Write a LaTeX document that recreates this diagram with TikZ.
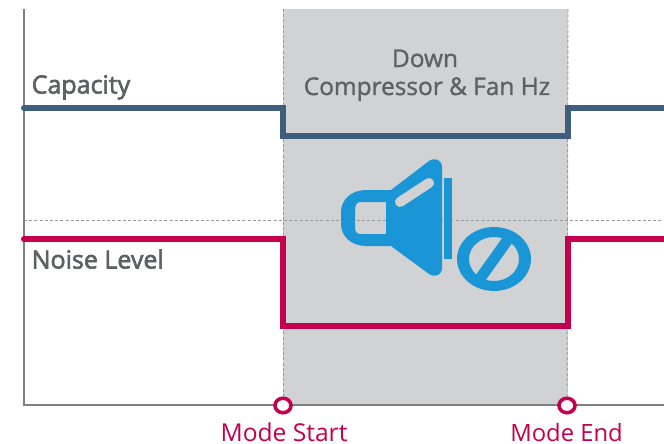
\documentclass[tikz,border=0pt]{standalone}
\usepackage{fontspec}
\usetikzlibrary{shapes.geometric}
\setmainfont{Open Sans}
\newfontfamily\semifont[FakeBold=1.2]{Open Sans}
\newfontfamily\sidefont[FakeBold=2.4]{Open Sans}
\definecolor{panel}{HTML}{D1D2D4}
\definecolor{axisc}{HTML}{808080}
\definecolor{guidec}{HTML}{9A9A9C}
\definecolor{bluec}{HTML}{3F5D7D}
\definecolor{redc}{HTML}{C4004F}
\definecolor{iconc}{HTML}{1A96D6}
\definecolor{textc}{HTML}{5F6062}
\tikzset{
  trace/.style={line width=6pt,line join=miter},
  guide/.style={draw=guidec,line width=0.9pt,dash pattern=on 3pt off 2.2pt},
  marker/.style={ellipse,draw=redc,line width=3.6pt,fill=white,minimum width=16pt,minimum height=14.5pt,inner sep=0pt},
  graylabel/.style={text=textc,font=\semifont\fontsize{24.4pt}{28pt}\selectfont,inner sep=0pt},
  sidelabel/.style={text=textc,font=\sidefont\fontsize{25pt}{28pt}\selectfont,inner sep=0pt},
  redlabel/.style={text=redc,font=\fontsize{24.6pt}{28pt}\selectfont,inner sep=0pt}
}
\begin{document}
\begin{tikzpicture}[x=1pt,y=-1pt]
\useasboundingbox (0,0) rectangle (664,444);
\fill[white] (0,0) rectangle (664,444);
\fill[panel] (283,9) rectangle (568,405);
% guides
\coordinate (ht) at (283,9); \coordinate (et) at (568,9);
\coordinate (hl) at (24,220); \coordinate (hr) at (664,220);
\draw[guide] (hl) -- (hr);
% axes
\coordinate (o) at (24,405); \coordinate (yt) at (24,9); \coordinate (xr) at (664,405);
\draw[axisc,line width=1.6pt] (yt) -- (o) -- (xr);
% markers
\node[marker] (ms) at (283,405.5) {};
\node[marker] (me) at (567,405.5) {};
\draw[guide] (ht) -- (ms);
\draw[guide] (et) -- (me);
% traces
\draw[bluec,trace] (24,108) -- (283,108) -- (283,136) -- (568,136) -- (568,108) -- (664,108);
\fill[bluec] (24,108) circle (3pt);
\draw[redc,trace] (24,239) -- (283,239) -- (283,326) -- (568,326) -- (568,239) -- (664,239);
\fill[redc] (24,239) circle (3pt);
% labels
\node[sidelabel,anchor=base west] (cap) at (31.5,93.5) {Capacity};
\node[sidelabel,anchor=base west] (noise) at (31.5,268.5) {Noise Level};
\node[graylabel,anchor=base] (down) at (425,67) {Down};
\node[graylabel,anchor=base] (comp) at (427,95) {Compressor \& Fan Hz};
\node[redlabel,anchor=base] (mst) at (284,441) {Mode Start};
\node[redlabel,anchor=base,font=\fontsize{23.8pt}{28pt}\selectfont] (men) at (566.5,441) {Mode End};
% speaker icon
\fill[iconc,even odd rule]
  (391,190) -- (429,161) .. controls (435,157) and (442,160) .. (442,167)
  -- (442,268) .. controls (442,275) and (435,278) .. (429,274) -- (391,246)
  -- (366,246) .. controls (351,246) and (341,236) .. (341,224)
  -- (341,212) .. controls (341,200) and (351,190) .. (366,190) -- cycle
  (386,202) -- (361,202) .. controls (357,202) and (355,205) .. (355,208)
  -- (355,228) .. controls (355,232) and (357,234) .. (361,234) -- (386,234) -- cycle;
\draw[panel,line width=10pt,line cap=round] (400,202) -- (429,183);
\fill[iconc] (444,178) rectangle (452,259);
\fill[iconc,even odd rule] (494,259) ellipse [x radius=37pt,y radius=32pt] (494,259) ellipse [x radius=25pt,y radius=22pt];
\draw[iconc,line width=11pt] (509,238) -- (479,280);
\end{tikzpicture}
\end{document}
